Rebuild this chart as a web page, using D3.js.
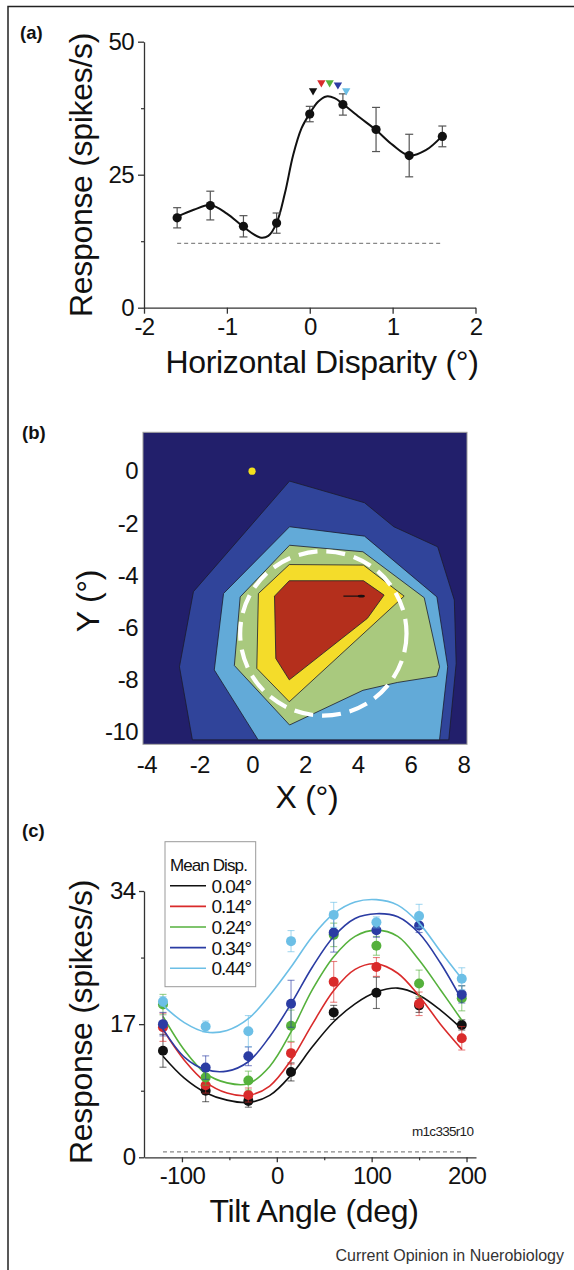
<!DOCTYPE html>
<html>
<head>
<meta charset="utf-8">
<script src="https://cdn.jsdelivr.net/npm/d3@7"></script>
<style>
  html, body { margin: 0; padding: 0; background: #fff; }
  svg { display: block; font-family: "Liberation Sans", Arial, Helvetica, sans-serif; }
</style>
</head>
<body>
<svg id="fig" width="574" height="1270"></svg>
<script>
// ---------- data: panel (a) horizontal disparity tuning ----------
const dispX = [-1.6, -1.2, -0.8, -0.4, 0, 0.4, 0.8, 1.2, 1.6];
const dispResp = [16.9, 19.2, 15.3, 15.9, 36.4, 38.2, 33.5, 28.6, 32.2];
const dispErr = [1.9, 2.7, 2.0, 1.9, 1.45, 2.0, 4.15, 4.0, 1.95];
const dispFitX = [-1.6, -1.4, -1.2, -1.0, -0.8, -0.6, -0.5, -0.4, -0.3, -0.2, -0.1, 0, 0.1, 0.2, 0.3, 0.4, 0.6, 0.8, 1.0, 1.2, 1.4, 1.6];
const dispFitY = [17.1, 18.4, 19.3, 17.7, 15.2, 13.2, 13.5, 15.9, 21.5, 28.7, 33.7, 36.5, 38.7, 39.7, 39.4, 38.3, 35.8, 33.4, 30.6, 28.6, 29.6, 32.3];
const dispSpont = 12.1;
const peakX = [0.04, 0.14, 0.24, 0.34, 0.44];
const peakY = [40.8, 42.3, 42.3, 41.9, 40.8];

// ---------- data: panel (b) receptive field contour map ----------
const xTicksB = [-4, -2, 0, 2, 4, 6, 8];
const yTicksB = [0, -2, -4, -6, -8, -10];
const level1 = [[1.42, -0.38], [4.26, -1.21], [5.37, -2.13], [7.03, -2.9], [7.66, -4.94], [7.73, -7.37], [7.45, -10.3], [-2.26, -10.3], [-2.75, -7.5], [-2.22, -4.62]];
const level2 = [[1.42, -2.13], [4.26, -2.49], [7.0, -4.82], [7.41, -7.5], [7.1, -10.3], [0.23, -10.3], [-1.43, -7.62], [-1.08, -4.69]];
const level3 = [[1.42, -2.84], [4.2, -3.09], [6.52, -4.85], [7.1, -7.5], [7.0, -7.86], [5.5, -8.1], [4.2, -8.4], [1.42, -9.73], [-0.67, -7.45], [-0.45, -4.82]];
const level4 = [[1.41, -3.58], [4.22, -3.6], [5.76, -4.79], [1.41, -8.84], [0.18, -7.56], [0.24, -4.69]];
const level5 = [[1.41, -4.2], [4.22, -4.2], [5.0, -4.75], [4.37, -5.64], [1.41, -8.0], [0.9, -7.18], [0.85, -4.79]];
const fixation = [0, 0];
const rfCenter = [2.7, -6.22];
const rfRadius = 3.15;
const arrowFrom = [3.46, -4.79];
const arrowTo = [4.25, -4.79];

// ---------- data: panel (c) tilt tuning ----------
const tiltX = [-120, -75, -30, 15, 60, 105, 150, 195];
const dispLevels = ["0.04°", "0.14°", "0.24°", "0.34°", "0.44°"];
const resp004 = [13.6, 8.5, 7.2, 10.9, 18.5, 21.0, 19.4, 16.9];
const resp014 = [16.6, 9.2, 7.95, 13.3, 22.4, 24.3, 19.6, 15.2];
const resp024 = [19.5, 10.2, 9.8, 16.8, 28.4, 27.0, 22.2, 20.3];
const resp034 = [17.0, 11.45, 12.9, 19.6, 28.7, 29.0, 29.6, 20.8];
const resp044 = [19.9, 16.7, 16.1, 27.6, 30.95, 30.0, 30.8, 22.8];
const err004 = [2.1, 1.4, 0.8, 1.15, 0.9, 2.0, 0.9, 0.65];
const err014 = [1.8, 1.0, 0.9, 1.4, 2.6, 1.2, 1.5, 1.5];
const err024 = [1.3, 1.0, 1.2, 2.0, 1.5, 1.2, 1.7, 1.6];
const err034 = [1.5, 1.5, 1.2, 3.0, 2.5, 0.9, 0.9, 1.1];
const err044 = [0.6, 0.7, 2.0, 1.35, 1.6, 0.7, 1.5, 1.4];
const fitTilt = [-120, -97.5, -75, -52.5, -30, -7.5, 15, 37.5, 60, 82.5, 105, 127.5, 150, 172.5, 195];
const fit004 = [12.9, 10.1, 8.25, 7.3, 7.0, 7.9, 10.5, 14.1, 17.3, 19.6, 21.1, 21.6, 20.7, 18.8, 16.4];
const fit014 = [16.3, 12.4, 9.6, 8.2, 7.9, 9.1, 12.4, 17.0, 21.3, 24.0, 24.7, 23.5, 20.6, 17.0, 13.8];
const fit024 = [18.0, 13.7, 10.7, 9.5, 9.4, 11.6, 16.0, 21.4, 25.6, 28.2, 29.0, 28.2, 25.2, 21.4, 17.5];
const fit034 = [16.4, 12.8, 11.2, 11.0, 12.2, 15.4, 19.6, 24.3, 28.2, 30.5, 31.1, 30.7, 28.6, 24.8, 20.1];
const fit044 = [19.4, 17.2, 16.0, 16.2, 17.7, 20.7, 24.3, 28.2, 31.1, 32.6, 32.9, 32.2, 29.9, 26.3, 22.8];
const tiltSpont = 0.7;

const seriesColors = ["#111111", "#d92b2b", "#55b13c", "#2b3ca3", "#6cbfe6"];
const levelColors = ["#30449a", "#62aad8", "#a9c97e", "#f4dc2a", "#b42f1c"];
const navy = "#221f6b";

const svg = d3.select("#fig");

// figure frame (left + top rule)
svg.append("path")
  .attr("d", "M8,1270V6.5H574")
  .attr("fill", "none")
  .attr("stroke", "#222")
  .attr("stroke-width", 1.5);

function styleAxis(g, size) {
  g.attr("font-family", null).attr("font-size", null);
  g.select(".domain").attr("stroke", "#333").attr("stroke-width", 1.3);
  g.selectAll(".tick line").attr("stroke", "#333").attr("stroke-width", 1.3);
  g.selectAll(".tick text").attr("font-size", size).attr("fill", "#111").attr("letter-spacing", -0.6);
}

function minorTicks(g) {
  g.select(".domain").remove();
  g.selectAll(".tick line").attr("stroke", "#333").attr("stroke-width", 1.2);
}

function panelLabel(txt, x, y) {
  svg.append("text")
    .attr("x", x).attr("y", y)
    .attr("font-size", 18.5).attr("font-weight", "bold")
    .attr("fill", "#111")
    .text(txt);
}

function title(txt, x, y, rotate) {
  svg.append("text")
    .attr("transform", rotate ? `translate(${x},${y}) rotate(-90)` : `translate(${x},${y})`)
    .attr("text-anchor", "middle")
    .attr("font-size", 32)
    .attr("letter-spacing", -0.3)
    .attr("fill", "#111")
    .text(txt);
}

const fmt = d => String(d);

// =================== panel (a) ===================
panelLabel("(a)", 20, 39);
const xA = d3.scaleLinear().domain([-2, 2]).range([144, 475.5]);
const yA = d3.scaleLinear().domain([0, 50]).range([307.7, 41.7]);

svg.append("g").attr("transform", "translate(0,307.7)")
  .call(d3.axisBottom(xA).tickValues([-2, -1, 0, 1, 2]).tickSize(6).tickPadding(4).tickSizeOuter(0).tickFormat(fmt))
  .call(g => styleAxis(g, 24));
svg.append("g").attr("transform", "translate(144,0)")
  .call(d3.axisLeft(yA).tickValues([0, 25, 50]).tickSize(6).tickPadding(4).tickSizeOuter(0).tickFormat(fmt))
  .call(g => styleAxis(g, 24));
svg.append("g").attr("transform", "translate(144,0)")
  .call(d3.axisLeft(yA).tickValues([12.5, 37.5]).tickSize(3).tickFormat(""))
  .call(minorTicks);

title("Response (spikes/s)", 92, 175, true);
title("Horizontal Disparity (°)", 322, 373, false);

svg.append("line")
  .attr("x1", xA(dispX[0])).attr("x2", xA(dispX[dispX.length - 1]))
  .attr("y1", yA(dispSpont)).attr("y2", yA(dispSpont))
  .attr("stroke", "#888").attr("stroke-width", 1.3).attr("stroke-dasharray", "4,3");

svg.append("path")
  .datum(dispFitX.map((x, i) => [x, dispFitY[i]]))
  .attr("fill", "none").attr("stroke", "#111").attr("stroke-width", 2)
  .attr("d", d3.line().x(d => xA(d[0])).y(d => yA(d[1])).curve(d3.curveCatmullRom.alpha(0.5)));

const ptsA = dispX.map((x, i) => ({ x, y: dispResp[i], e: dispErr[i] }));
const ebA = svg.append("g").attr("stroke", "#555").attr("stroke-width", 1.2);
ptsA.forEach(d => {
  ebA.append("line").attr("x1", xA(d.x)).attr("x2", xA(d.x)).attr("y1", yA(d.y - d.e)).attr("y2", yA(d.y + d.e));
  [d.y - d.e, d.y + d.e].forEach(v => {
    ebA.append("line").attr("x1", xA(d.x) - 4).attr("x2", xA(d.x) + 4).attr("y1", yA(v)).attr("y2", yA(v));
  });
});
svg.append("g").selectAll("circle").data(ptsA).join("circle")
  .attr("cx", d => xA(d.x)).attr("cy", d => yA(d.y)).attr("r", 4.6).attr("fill", "#111");

svg.append("g").selectAll("path").data(peakX).join("path")
  .attr("d", d3.symbol().type(d3.symbolTriangle).size(30))
  .attr("transform", (d, i) => `translate(${xA(d)},${yA(peakY[i])}) rotate(180)`)
  .attr("fill", (d, i) => seriesColors[i]);

// =================== panel (b) ===================
panelLabel("(b)", 22, 439);
const xB = d3.scaleLinear().domain([-4.13, 8.14]).range([143, 467]);
const yB = d3.scaleLinear().domain([-10.47, 1.49]).range([744.3, 432.3]);

svg.append("defs").append("clipPath").attr("id", "clipB")
  .append("rect").attr("x", xB(-4.13)).attr("y", yB(1.49))
  .attr("width", xB(8.14) - xB(-4.13)).attr("height", yB(-10.47) - yB(1.49));

const gB = svg.append("g").attr("clip-path", "url(#clipB)");
gB.append("rect")
  .attr("x", xB(-4.13)).attr("y", yB(1.49))
  .attr("width", xB(8.14) - xB(-4.13)).attr("height", yB(-10.47) - yB(1.49))
  .attr("fill", navy);

const polyLine = d3.line().x(d => xB(d[0])).y(d => yB(d[1])).curve(d3.curveLinearClosed);
[level1, level2, level3, level4, level5].forEach((poly, i) => {
  gB.append("path").datum(poly)
    .attr("d", polyLine)
    .attr("fill", levelColors[i])
    .attr("stroke", "#1c1c2c").attr("stroke-width", 0.8).attr("stroke-linejoin", "round");
});

// stimulus arrow inside the peak region
gB.append("line")
  .attr("x1", xB(arrowFrom[0])).attr("y1", yB(arrowFrom[1]))
  .attr("x2", xB(arrowTo[0])).attr("y2", yB(arrowTo[1]))
  .attr("stroke", "#1a1010").attr("stroke-width", 1.1);
gB.append("ellipse")
  .attr("cx", xB(arrowTo[0]) - 3).attr("cy", yB(arrowTo[1]))
  .attr("rx", 3.5).attr("ry", 1.3).attr("fill", "#1a1010");

// classical receptive field outline
gB.append("ellipse")
  .attr("cx", xB(rfCenter[0])).attr("cy", yB(rfCenter[1]))
  .attr("rx", xB(rfCenter[0] + rfRadius) - xB(rfCenter[0]))
  .attr("ry", yB(rfCenter[1] - rfRadius) - yB(rfCenter[1]))
  .attr("fill", "none").attr("stroke", "#fff").attr("stroke-width", 4.2)
  .attr("stroke-dasharray", "19,9");

gB.append("circle")
  .attr("cx", xB(fixation[0])).attr("cy", yB(fixation[1])).attr("r", 3.6)
  .attr("fill", "#f3e01c");

svg.append("rect")
  .attr("x", xB(-4.13)).attr("y", yB(1.49))
  .attr("width", xB(8.14) - xB(-4.13)).attr("height", yB(-10.47) - yB(1.49))
  .attr("fill", "none").attr("stroke", "#999").attr("stroke-width", 1);

svg.append("g").attr("transform", `translate(0,${yB(-10.47)})`)
  .call(d3.axisBottom(xB).tickValues(xTicksB).tickSize(0).tickPadding(12).tickFormat(fmt))
  .call(g => { styleAxis(g, 24); g.select(".domain").remove(); });
svg.append("g").attr("transform", `translate(${xB(-4.13)},0)`)
  .call(d3.axisLeft(yB).tickValues(yTicksB).tickSize(0).tickPadding(5).tickFormat(fmt))
  .call(g => { styleAxis(g, 24); g.select(".domain").remove(); });

title("Y (°)", 99, 601, true);
title("X (°)", 307, 808, false);

// =================== panel (c) ===================
panelLabel("(c)", 22, 837);
const xC = d3.scaleLinear().domain([-140, 210]).range([144, 476]);
const yC = d3.scaleLinear().domain([0, 34]).range([1157.3, 891]);

svg.append("g").attr("transform", "translate(0,1157.3)")
  .call(d3.axisBottom(xC).tickValues([-100, 0, 100, 200]).tickSize(5).tickPadding(4.5).tickSizeOuter(0).tickFormat(fmt))
  .call(g => styleAxis(g, 24));
svg.append("g").attr("transform", "translate(0,1157.3)")
  .call(d3.axisBottom(xC).tickValues([-50, 50, 150]).tickSize(3).tickFormat(""))
  .call(minorTicks);
svg.append("g").attr("transform", "translate(144,0)")
  .call(d3.axisLeft(yC).tickValues([0, 17, 34]).tickSize(5).tickPadding(3.5).tickSizeOuter(0).tickFormat(fmt))
  .call(g => styleAxis(g, 24));
svg.append("g").attr("transform", "translate(144,0)")
  .call(d3.axisLeft(yC).tickValues([8.5, 25.5]).tickSize(3).tickFormat(""))
  .call(minorTicks);

title("Response (spikes/s)", 92, 1022, true);
title("Tilt Angle (deg)", 314, 1222, false);

svg.append("line")
  .attr("x1", xC(tiltX[0])).attr("x2", xC(tiltX[tiltX.length - 1]))
  .attr("y1", yC(tiltSpont)).attr("y2", yC(tiltSpont))
  .attr("stroke", "#888").attr("stroke-width", 1.2).attr("stroke-dasharray", "4,3");

svg.append("text")
  .attr("x", 412).attr("y", 1136)
  .attr("font-size", 13.5).attr("fill", "#222").attr("letter-spacing", -0.7)
  .text("m1c335r10");

const respC = [resp004, resp014, resp024, resp034, resp044];
const errC = [err004, err014, err024, err034, err044];
const fitC = [fit004, fit014, fit024, fit034, fit044];
const lineC = d3.line().x(d => xC(d[0])).y(d => yC(d[1])).curve(d3.curveCatmullRom.alpha(0.5));

respC.forEach((resp, s) => {
  const col = seriesColors[s];
  svg.append("path")
    .datum(fitTilt.map((x, i) => [x, fitC[s][i]]))
    .attr("fill", "none").attr("stroke", col).attr("stroke-width", 1.6)
    .attr("d", lineC);

  const eb = svg.append("g").attr("stroke", col).attr("stroke-opacity", 0.6).attr("stroke-width", 1.1);
  tiltX.forEach((x, i) => {
    const lo = resp[i] - errC[s][i], hi = resp[i] + errC[s][i];
    eb.append("line").attr("x1", xC(x)).attr("x2", xC(x)).attr("y1", yC(lo)).attr("y2", yC(hi));
    [lo, hi].forEach(v => {
      eb.append("line").attr("x1", xC(x) - 3.5).attr("x2", xC(x) + 3.5).attr("y1", yC(v)).attr("y2", yC(v));
    });
  });

  svg.append("g").selectAll("circle").data(tiltX).join("circle")
    .attr("cx", d => xC(d)).attr("cy", (d, i) => yC(resp[i]))
    .attr("r", 5).attr("fill", col);
});

// legend
const legend = svg.append("g");
legend.append("rect")
  .attr("x", 165).attr("y", 841.7).attr("width", 90.7).attr("height", 145)
  .attr("fill", "#fff").attr("stroke", "#999").attr("stroke-width", 1);
legend.append("text")
  .attr("x", 170).attr("y", 871)
  .attr("font-size", 17).attr("fill", "#111").attr("letter-spacing", -0.9)
  .text("Mean Disp.");
dispLevels.forEach((lab, i) => {
  const y = 885.7 + i * 20.65;
  legend.append("line").attr("x1", 170).attr("x2", 206).attr("y1", y).attr("y2", y)
    .attr("stroke", seriesColors[i]).attr("stroke-width", 1.6);
  legend.append("text").attr("x", 211.5).attr("y", y + 7)
    .attr("font-size", 19).attr("fill", "#111").attr("letter-spacing", -1)
    .text(lab);
});

svg.append("text")
  .attr("x", 564).attr("y", 1261)
  .attr("text-anchor", "end")
  .attr("font-size", 16).attr("fill", "#333")
  .text("Current Opinion in Nuerobiology");
</script>
</body>
</html>
